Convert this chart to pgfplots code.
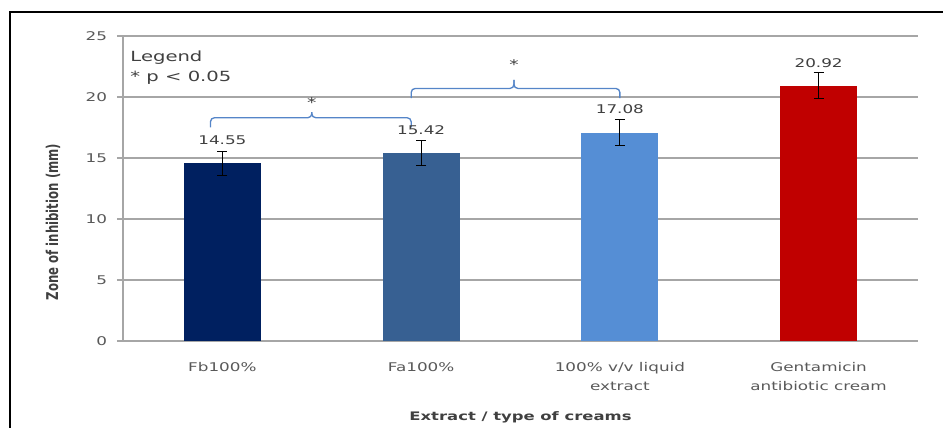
\documentclass[border=0pt]{standalone}
\usepackage{fontspec}
\usepackage{pgfplots}
\pgfplotsset{compat=1.18}

% wide sans for most text, a narrow cut of the same family for the rotated title
\newfontfamily\wfont{DejaVu Sans}[FakeStretch=1.4]
\newfontfamily\yfont{DejaVu Sans}[FakeStretch=0.72]

\definecolor{fbblue}{HTML}{002060}
\definecolor{fablue}{HTML}{376092}
\definecolor{liqblue}{HTML}{558ED5}
\definecolor{gentred}{HTML}{C00000}
\definecolor{gridgray}{HTML}{A6A6A6}
\definecolor{ticktext}{HTML}{595959}
\definecolor{labeltext}{HTML}{404040}
\definecolor{brace}{HTML}{5585C8}

\pgfplotsset{
  errbar/.style={
    error bars/.cd, y dir=both, y explicit,
    error bar style={black, line width=0.8pt},
    error mark options={black, rotate=90, line width=0.8pt, mark size=3.8pt}},
}

\begin{document}
\begin{tikzpicture}
% canvas 943 x 428 px (0.75pt per px), axis corner at the origin
\path[use as bounding box, clip] (-92.25pt,-65.25pt) rectangle (615pt,255.75pt);
\draw[black, line width=2.2pt] (-84.75pt,-80pt) -- (-84.75pt,246.75pt) -- (640pt,246.75pt);

\begin{axis}[
  scale only axis, width=596.25pt, height=228.75pt,
  at={(0pt,0pt)}, anchor=south west,
  xmin=-0.5, xmax=3.5, ymin=0, ymax=25,
  ytick={0,5,10,15,20,25},
  xtick={0,1,2,3},
  xticklabels={{Fb100\%},{Fa100\%},{100\% v/v liquid\\extract},{Gentamicin\\antibiotic cream}},
  axis x line*=bottom, axis y line*=left,
  axis line style={draw=gridgray, line width=1pt, -},
  ymajorgrids, grid style={draw=gridgray, line width=0.8pt},
  tick align=outside, major tick length=4.5pt,
  ytick style={draw=gridgray, line width=0.8pt},
  xtick style={draw=none},
  /pgf/number format/assume math mode=true,
  yticklabel style={font=\wfont\fontsize{9}{11}\selectfont, text=ticktext, xshift=-4pt},
  xticklabel style={font=\wfont\fontsize{9}{14.25}\selectfont, text=ticktext, align=center, anchor=north, yshift=-8pt},
  xlabel={Extract / type of creams},
  xlabel style={at={(axis description cs:0.5,-0.249)}, anchor=center,
    font=\wfont\bfseries\fontsize{8.8}{10}\selectfont, text=labeltext},
  ylabel={Zone of inhibition (mm)},
  ylabel style={at={(axis description cs:-0.088,0.39)}, anchor=center,
    font=\yfont\bfseries\fontsize{12.2}{14}\selectfont, text=labeltext},
  nodes near coords,
  nodes near coords style={font=\wfont\fontsize{9}{11}\selectfont, text=labeltext,
    anchor=center, yshift=17.25pt,
    /pgf/number format/.cd, fixed, fixed zerofill, precision=2},
  clip=false,
]

\addplot[ybar, bar width=0.388, bar shift=0pt, fill=fbblue, draw=none, errbar]
  coordinates {(0,14.55) +- (0,1.0)};
\addplot[ybar, bar width=0.388, bar shift=0pt, fill=fablue, draw=none, errbar]
  coordinates {(1,15.42) +- (0,1.0)};
\addplot[ybar, bar width=0.388, bar shift=0pt, fill=liqblue, draw=none, errbar]
  coordinates {(2,17.08) +- (0,1.05)};
\addplot[ybar, bar width=0.388, bar shift=0pt, fill=gentred, draw=none, errbar]
  coordinates {(3,20.92) +- (0,1.05)};

% significance braces
\draw[brace, line width=1pt, rounded corners=3pt]
  (axis cs:-0.06,17.5) -- (axis cs:-0.06,18.3) -- (axis cs:0.45,18.3) -- (axis cs:0.45,18.75);
\draw[brace, line width=1pt, rounded corners=3pt]
  (axis cs:0.95,17.5) -- (axis cs:0.95,18.3) -- (axis cs:0.45,18.3) -- (axis cs:0.45,18.75);
\draw[brace, line width=1pt, rounded corners=3pt]
  (axis cs:0.95,19.9) -- (axis cs:0.95,20.7) -- (axis cs:1.467,20.7) -- (axis cs:1.467,21.4);
\draw[brace, line width=1pt, rounded corners=3pt]
  (axis cs:2.0,19.9) -- (axis cs:2.0,20.7) -- (axis cs:1.467,20.7) -- (axis cs:1.467,21.4);
\node[font=\wfont\fontsize{10}{12}\selectfont, text=labeltext, anchor=center, yshift=-2pt]
  at (axis cs:0.45,19.75) {*};
\node[font=\wfont\fontsize{10}{12}\selectfont, text=labeltext, anchor=center, yshift=-2pt]
  at (axis cs:1.467,22.9) {*};

% key to the significance mark
\node[font=\wfont\fontsize{10.5}{12}\selectfont, text=labeltext, anchor=west, inner sep=0pt]
  at (axis description cs:0.009,0.928) {Legend};
\node[font=\wfont\fontsize{10.5}{12}\selectfont, text=labeltext, anchor=west, inner sep=0pt]
  at (axis description cs:0.009,0.862) {* p < 0.05};
\end{axis}
\end{tikzpicture}
\end{document}
